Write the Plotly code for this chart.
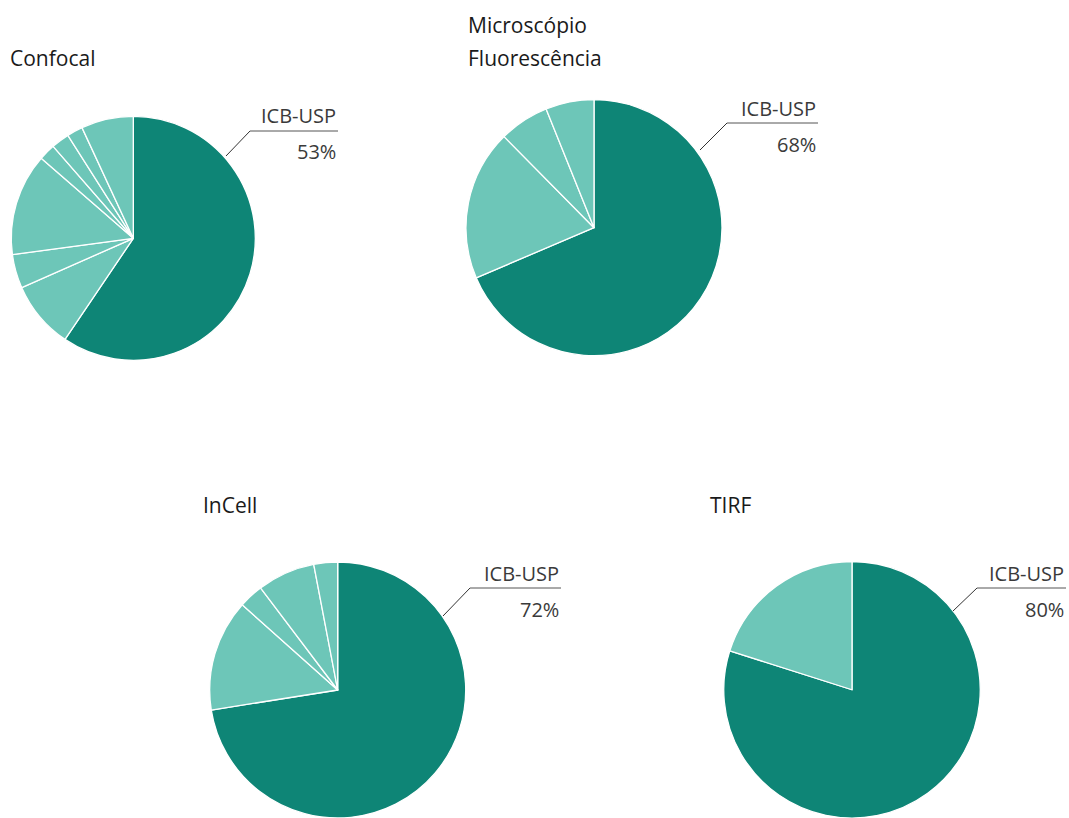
import plotly.graph_objects as go

W, H = 1069, 818

# ---- data (shares, clockwise from 12 o'clock) ----
titles = ["Confocal", "Microscópio<br>Fluorescência", "InCell", "TIRF"]
confocal_values = [59.4, 8.9, 4.5, 13.5, 2.2, 2.4, 2.1, 6.9]
fluorescencia_values = [68.6, 19.0, 6.3, 6.1]
incell_values = [72.5, 14.1, 3.1, 7.3, 3.0]
tirf_values = [79.9, 20.1]
main_label = "ICB-USP"
main_pct_labels = ["53%", "68%", "72%", "80%"]

DARK = "#0E8576"
LIGHT = "#6DC6B8"

# ---- layout (pixel geometry) ----
pies = [
    dict(values=confocal_values, cx=133.3, cy=238.3, r=122),
    dict(values=fluorescencia_values, cx=594, cy=227.7, r=128),
    dict(values=incell_values, cx=337.7, cy=690.0, r=128),
    dict(values=tirf_values, cx=852, cy=690.0, r=128.5),
]

def px(x):
    return x / W

def py(y):
    return 1 - y / H

fig = go.Figure()
for i, p in enumerate(pies):
    vals = p["values"]
    cols = [DARK] + [LIGHT] * (len(vals) - 1)
    fig.add_trace(go.Pie(
        values=vals,
        labels=[f"s{i}_{k}" for k in range(len(vals))],
        sort=False,
        direction="clockwise",
        rotation=0,
        textinfo="none",
        hoverinfo="skip",
        marker=dict(colors=cols, line=dict(color="white", width=1.3)),
        domain=dict(x=[px(p["cx"] - p["r"]), px(p["cx"] + p["r"])],
                    y=[max(0, py(p["cy"] + p["r"])), min(1, py(p["cy"] - p["r"]))]),
        showlegend=False,
    ))

# titles (multi-line titles are drawn line by line for exact spacing)
title_pos = [(8, 58), (466, 25), (201, 505), (708, 505)]
title_line_gap = 33
annotations = []
for t, (x, y) in zip(titles, title_pos):
    for j, line in enumerate(t.split("<br>")):
        annotations.append(dict(text=line, x=px(x), y=py(y + j * title_line_gap),
                                xref="paper", yref="paper",
                                xanchor="left", yanchor="middle", showarrow=False,
                                font=dict(family="Open Sans", size=21, color="#1a1a1a")))

# leader lines + labels: (line y, line x0, line x1, diag end x, diag end y)
leaders = [
    (131, 250, 338, 226, 156),
    (123, 727, 818, 700, 150),
    (588, 470, 561, 443, 616),
    (588, 977, 1066, 953, 611),
]
shapes = []
for (ly, x0, x1, dx, dy), pct in zip(leaders, main_pct_labels):
    shapes.append(dict(type="line", xref="paper", yref="paper",
                       x0=px(x0), y0=py(ly), x1=px(x1), y1=py(ly),
                       line=dict(color="#555555", width=1)))
    shapes.append(dict(type="line", xref="paper", yref="paper",
                       x0=px(x0), y0=py(ly), x1=px(dx), y1=py(dy),
                       line=dict(color="#333333", width=1)))
    annotations.append(dict(text=main_label, x=px(x1), y=py(ly - 15), xref="paper", yref="paper",
                            xanchor="right", yanchor="middle", showarrow=False,
                            font=dict(family="Open Sans", size=20, color="#3a3a3a")))
    annotations.append(dict(text=pct, x=px(x1), y=py(ly + 21), xref="paper", yref="paper",
                            xanchor="right", yanchor="middle", showarrow=False,
                            font=dict(family="Open Sans", size=20, color="#3a3a3a")))

fig.update_layout(
    width=W, height=H,
    margin=dict(l=0, r=0, t=0, b=0),
    paper_bgcolor="white", plot_bgcolor="white",
    annotations=annotations, shapes=shapes,
)

fig.write_html("out.html", config={"displayModeBar": False},
               post_script="document.body.style.margin='0';")
